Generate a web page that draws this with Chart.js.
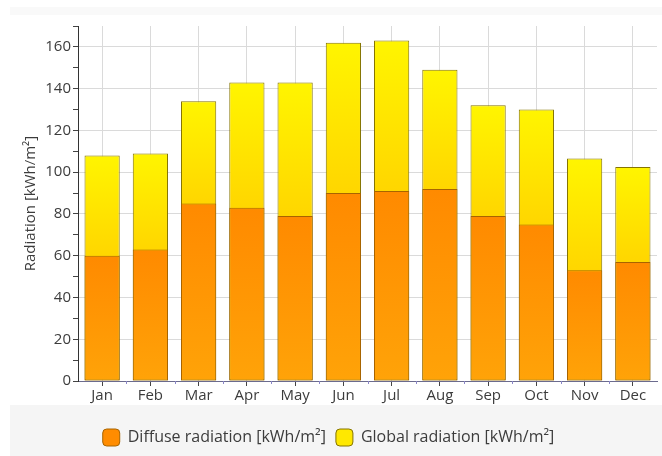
<!DOCTYPE html>
<html>
<head>
<meta charset="utf-8">
<script src="https://cdn.jsdelivr.net/npm/chart.js@4/dist/chart.umd.min.js"></script>
<style>
  html, body { margin: 0; padding: 0; background: #ffffff; }
  #wrap { width: 662px; height: 456px; }
</style>
</head>
<body>
<div id="wrap"><canvas id="chart" width="662" height="456"></canvas></div>
<script>
// Monthly radiation totals
const months = ['Jan', 'Feb', 'Mar', 'Apr', 'May', 'Jun', 'Jul', 'Aug', 'Sep', 'Oct', 'Nov', 'Dec'];
const diffuseRadiation = [60, 63, 85, 83, 79, 90, 91, 92, 79, 75, 53, 57];
const globalRadiation = [108, 109, 134, 143, 143, 162, 163, 149, 132, 130, 106.5, 102.5];
const yTickValues = [0, 20, 40, 60, 80, 100, 120, 140, 160];

const FONT = "'Open Sans', 'Noto Sans', sans-serif";

// Vertical gradient across the visible part of each bar
function barGradient(ctx, fromValue, toValue, topColor, bottomColor) {
  const chart = ctx.chart;
  const y = chart.scales && chart.scales.y;
  if (!y || !chart.chartArea) return topColor;
  const y0 = y.getPixelForValue(fromValue);
  const y1 = y.getPixelForValue(toValue);
  if (!isFinite(y0) || !isFinite(y1) || y0 === y1) return topColor;
  const g = chart.ctx.createLinearGradient(0, y0, 0, y1);
  g.addColorStop(0, topColor);
  g.addColorStop(1, bottomColor);
  return g;
}

// Panel backgrounds (header strip and legend band)
const panelBackground = {
  id: 'panelBackground',
  beforeDraw(chart) {
    const c = chart.ctx;
    c.save();
    c.fillStyle = '#ffffff';
    c.fillRect(0, 0, chart.width, chart.height);
    c.fillStyle = '#f9f9f9';
    c.fillRect(10, 7, chart.width - 10, 8);
    c.fillStyle = '#f5f5f5';
    c.fillRect(10, chart.legend.top - 14, chart.width - 10, chart.height);
    c.restore();
  }
};

// Small marks on the category axis between neighbouring months
const categoryDividers = {
  id: 'categoryDividers',
  afterDraw(chart) {
    const x = chart.scales.x;
    const c = chart.ctx;
    const bottom = chart.chartArea.bottom;
    c.save();
    c.strokeStyle = '#8a86c8';
    c.lineWidth = 1;
    for (let i = 1; i < months.length; i++) {
      const px = Math.round((x.getPixelForValue(i - 1) + x.getPixelForValue(i)) / 2) + 0.5;
      c.beginPath();
      c.moveTo(px, bottom);
      c.lineTo(px, bottom + 3);
      c.stroke();
    }
    c.restore();
  }
};

new Chart(document.getElementById('chart'), {
  type: 'bar',
  data: {
    labels: months,
    datasets: [
      {
        label: 'Diffuse radiation [kWh/m²]',
        data: diffuseRadiation,
        grouped: false,
        backgroundColor: (ctx) => ctx.type === 'data'
          ? barGradient(ctx, diffuseRadiation[ctx.dataIndex], 0, '#ff8a00', '#ffa308')
          : '#ff8c00',
        borderColor: '#a86400',
        borderWidth: 1,
        borderSkipped: false
      },
      {
        label: 'Global radiation [kWh/m²]',
        data: globalRadiation,
        grouped: false,
        backgroundColor: (ctx) => ctx.type === 'data'
          ? barGradient(ctx, globalRadiation[ctx.dataIndex], diffuseRadiation[ctx.dataIndex], '#fff500', '#ffd600')
          : '#ffe800',
        borderColor: '#857400',
        borderWidth: 1,
        borderSkipped: false
      }
    ]
  },
  plugins: [panelBackground, categoryDividers],
  options: {
    responsive: false,
    animation: false,
    devicePixelRatio: 1,
    layout: { padding: { top: 26, right: 5, bottom: 0, left: 0 } },
    datasets: {
      bar: { barPercentage: 0.73, categoryPercentage: 1.0 }
    },
    scales: {
      x: {
        grid: {
          offset: false,
          color: '#dadada',
          tickColor: '#444444',
          tickLength: 5,
          drawTicks: true
        },
        border: { color: '#6b6b8e', width: 1 },
        ticks: {
          color: '#3c3c3c',
          font: { family: FONT, size: 15 },
          padding: 1,
          maxRotation: 0,
          autoSkip: false
        },
        afterFit(scale) { scale.height = 38; }
      },
      y: {
        min: 0,
        max: 170,
        grid: {
          color: (ctx) => (yTickValues.includes(ctx.tick.value) ? '#dadada' : 'rgba(0,0,0,0)'),
          tickColor: '#444444',
          tickLength: 5
        },
        border: { color: '#333333', width: 1 },
        ticks: {
          stepSize: 10,
          autoSkip: false,
          color: '#3c3c3c',
          font: { family: FONT, size: 15 },
          padding: 2,
          callback: (v) => (yTickValues.includes(v) ? String(v) : '')
        },
        title: {
          display: true,
          text: 'Radiation [kWh/m²]',
          color: '#3c3c3c',
          font: { family: FONT, size: 15 },
          padding: { top: 22, bottom: 0 }
        },
        afterFit(scale) { scale.width = 78; }
      }
    },
    plugins: {
      legend: {
        position: 'bottom',
        labels: {
          color: '#3c3c3c',
          font: { family: FONT, size: 16 },
          boxWidth: 17,
          boxHeight: 17,
          padding: 10,
          useBorderRadius: true,
          borderRadius: 4,
          generateLabels(chart) {
            const fills = ['#ff8c00', '#ffe800'];
            const strokes = ['#a86400', '#857400'];
            return chart.data.datasets.map((ds, i) => ({
              text: ds.label,
              fillStyle: fills[i],
              strokeStyle: strokes[i],
              lineWidth: 1,
              hidden: false,
              datasetIndex: i,
              fontColor: '#3c3c3c',
              borderRadius: 4
            }));
          }
        }
      },
      tooltip: { enabled: false }
    }
  }
});
</script>
</body>
</html>
